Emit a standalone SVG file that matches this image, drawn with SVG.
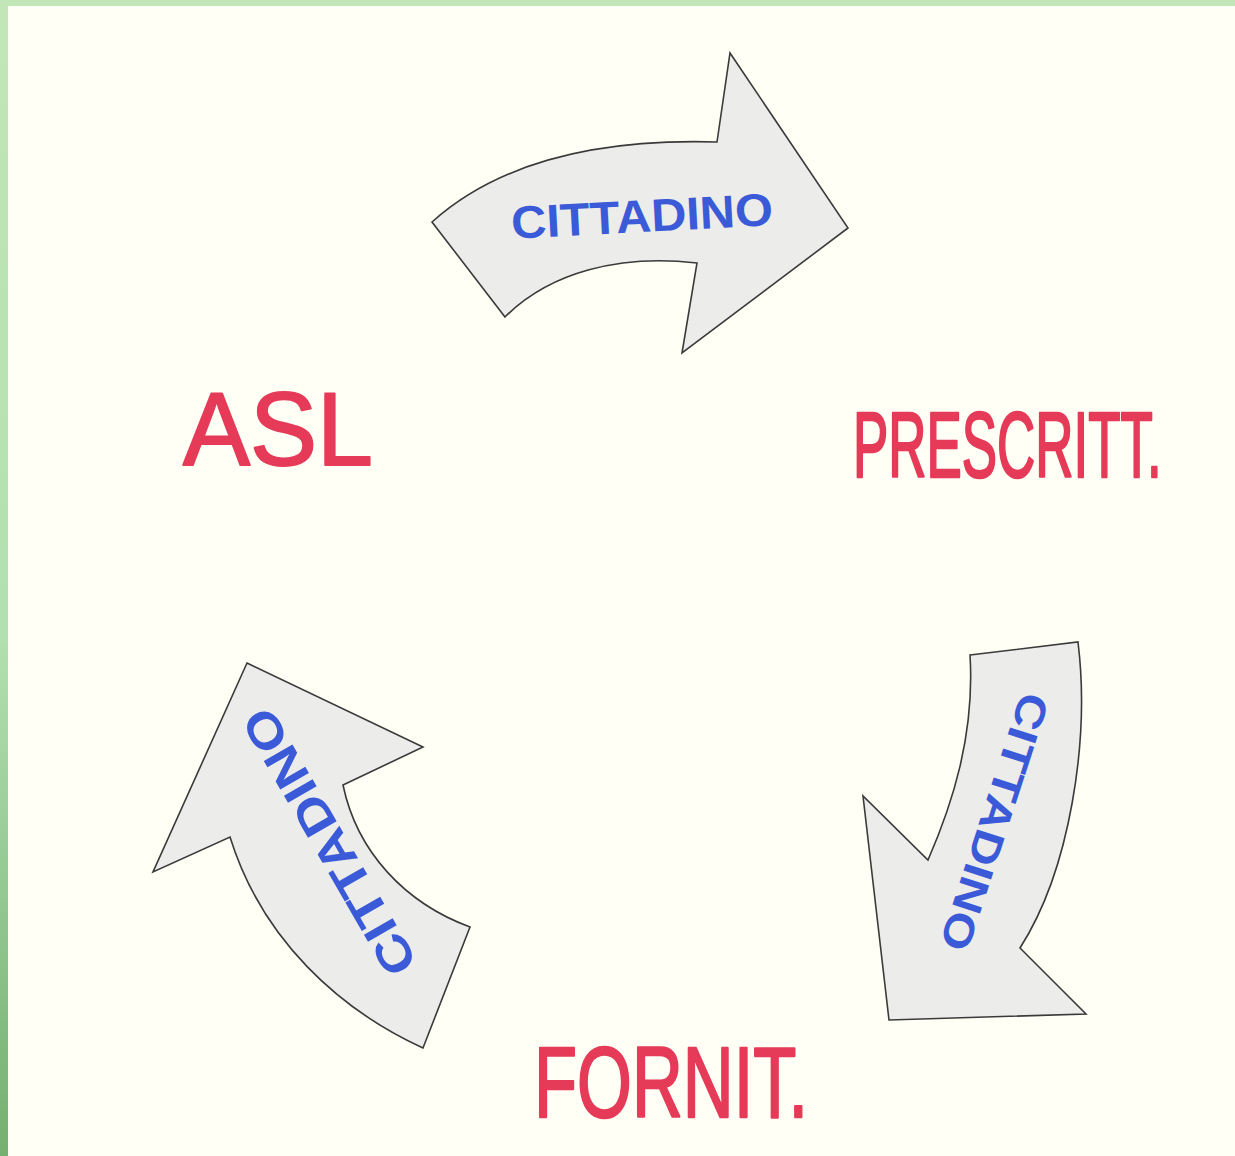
<svg xmlns="http://www.w3.org/2000/svg" width="1235" height="1156" viewBox="0 0 1235 1156">
  <defs>
    <linearGradient id="leftbar" x1="0" y1="0" x2="0" y2="1">
      <stop offset="0" stop-color="#c2e6b8"/>
      <stop offset="0.55" stop-color="#b2e0b0"/>
      <stop offset="1" stop-color="#74b070"/>
    </linearGradient>
  </defs>
  <style>
    .arrow { fill: #ececea; stroke: #3a3a3a; stroke-width: 1.6; stroke-linejoin: miter; }
    .red { fill: #e53b58; stroke: #e53b58; stroke-width: 2; stroke-linejoin: round; font-family: "Liberation Sans", Arial, sans-serif; }
    .blue { fill: #3b5ad8; font-family: "Liberation Sans", Arial, sans-serif; font-weight: bold; }
  </style>
  <rect x="0" y="0" width="1235" height="1156" fill="#fffff6"/>
  <rect x="0" y="0" width="1235" height="6" fill="#c2e6b8"/>
  <rect x="0" y="0" width="8" height="1156" fill="url(#leftbar)"/>

  <g id="connectors">
    <g id="arrow-top">
      <path class="arrow" d="M432,222 C490,170 580,138 717,142 L730,53 L848,228 L682,353 L697,263 C620,254 550,272 505,317 Z"/>
      <text class="blue" x="642" y="232" font-size="46" text-anchor="middle" textLength="262" lengthAdjust="spacingAndGlyphs" transform="rotate(-3 642 215)">CITTADINO</text>
    </g>
    <g id="arrow-right">
      <path class="arrow" d="M970,655 L1078,642 C1090,740 1070,870 1020,948 L1086,1014 L889,1020 L863,796 L928,860 C952,805 975,735 970,655 Z"/>
      <text class="blue" x="0" y="15" font-size="42" text-anchor="middle" textLength="268" lengthAdjust="spacingAndGlyphs" transform="translate(995,822) rotate(108)">CITTADINO</text>
    </g>
    <g id="arrow-left">
      <path class="arrow" d="M247,663 L423,747 L343,785 C357,852 405,903 470,927 L423,1048 C340,1010 262,940 230,837 L153,872 Z"/>
      <text class="blue" x="0" y="17" font-size="48" text-anchor="middle" textLength="300" lengthAdjust="spacingAndGlyphs" transform="translate(329,842) rotate(-120)">CITTADINO</text>
    </g>
  </g>

  <g id="node-asl">
    <text class="red" x="183" y="465" font-size="104" textLength="190" lengthAdjust="spacingAndGlyphs">ASL</text>
  </g>
  <g id="node-prescritt">
    <text class="red" x="0" y="0" font-size="92" vector-effect="non-scaling-stroke" transform="translate(853,477) scale(0.575,1)">PRESCRITT.</text>
  </g>
  <g id="node-fornit">
    <text class="red" x="0" y="0" font-size="100" vector-effect="non-scaling-stroke" transform="translate(534,1117) scale(0.705,1)">FORNIT.</text>
  </g>
</svg>
